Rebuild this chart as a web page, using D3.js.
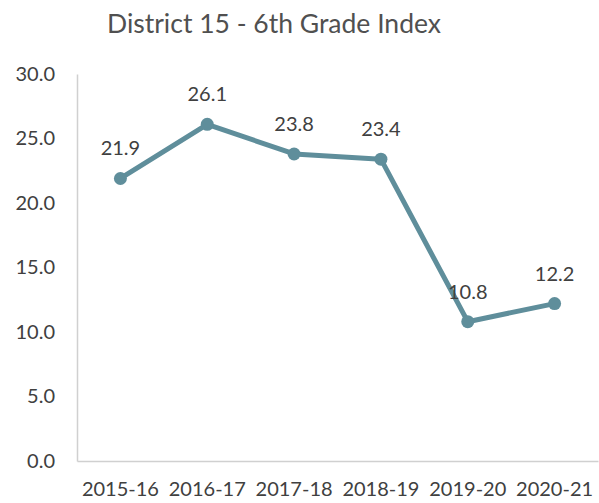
<!DOCTYPE html>
<html>
<head>
<meta charset="utf-8">
<script src="https://cdn.jsdelivr.net/npm/d3@7"></script>
<style>
  body { margin: 0; background: #fff; }
  text { font-family: "Gill Sans", "Lato", "Open Sans", sans-serif; fill: #404040; }
</style>
</head>
<body>
<div id="chart"></div>
<script>
// chart data
const years = ["2015-16", "2016-17", "2017-18", "2018-19", "2019-20", "2020-21"];
const values = [21.9, 26.1, 23.8, 23.4, 10.8, 12.2];
const yTicks = [0, 5, 10, 15, 20, 25, 30];

const width = 599, height = 503;
const margin = { top: 74, right: 1, bottom: 42, left: 77 };

const svg = d3.select("#chart").append("svg")
  .attr("width", width)
  .attr("height", height);

svg.append("text")
  .attr("x", 274)
  .attr("y", 33)
  .attr("text-anchor", "middle")
  .style("font-size", "26.5px")
  .style("fill", "#505050")
  .text("District 15 - 6th Grade Index");

const x = d3.scaleBand()
  .domain(years)
  .range([margin.left, width - margin.right]);

const y = d3.scaleLinear()
  .domain([0, 30])
  .range([height - margin.bottom, margin.top]);

// y axis
const yAxis = svg.append("g")
  .attr("transform", "translate(" + margin.left + ",0)")
  .call(d3.axisLeft(y).tickValues(yTicks).tickSize(0).tickPadding(22).tickFormat(d3.format(".1f")));
yAxis.select(".domain").attr("stroke", "#d0d0d0").attr("stroke-width", 1.5);
yAxis.selectAll("text").style("font-size", "20px");

// x axis
const xAxis = svg.append("g")
  .attr("transform", "translate(0," + (height - margin.bottom) + ")")
  .call(d3.axisBottom(x).tickSize(0).tickPadding(21));
xAxis.select(".domain").attr("stroke", "#d0d0d0").attr("stroke-width", 1.5);
xAxis.selectAll("text").style("font-size", "20px");

const cx = d => x(d) + x.bandwidth() / 2;

const line = d3.line()
  .x((d, i) => cx(years[i]))
  .y(d => y(d));

svg.append("path")
  .datum(values)
  .attr("fill", "none")
  .attr("stroke", "#5f8e9b")
  .attr("stroke-width", 5)
  .attr("stroke-linejoin", "round")
  .attr("d", line);

svg.selectAll("circle.pt")
  .data(values)
  .join("circle")
  .attr("class", "pt")
  .attr("cx", (d, i) => cx(years[i]))
  .attr("cy", d => y(d))
  .attr("r", 6.5)
  .attr("fill", "#5f8e9b");

svg.selectAll("text.lbl")
  .data(values)
  .join("text")
  .attr("class", "lbl")
  .attr("x", (d, i) => cx(years[i]))
  .attr("y", d => y(d) - 23)
  .attr("text-anchor", "middle")
  .style("font-size", "20px")
  .text(d => d3.format(".1f")(d));
</script>
</body>
</html>
